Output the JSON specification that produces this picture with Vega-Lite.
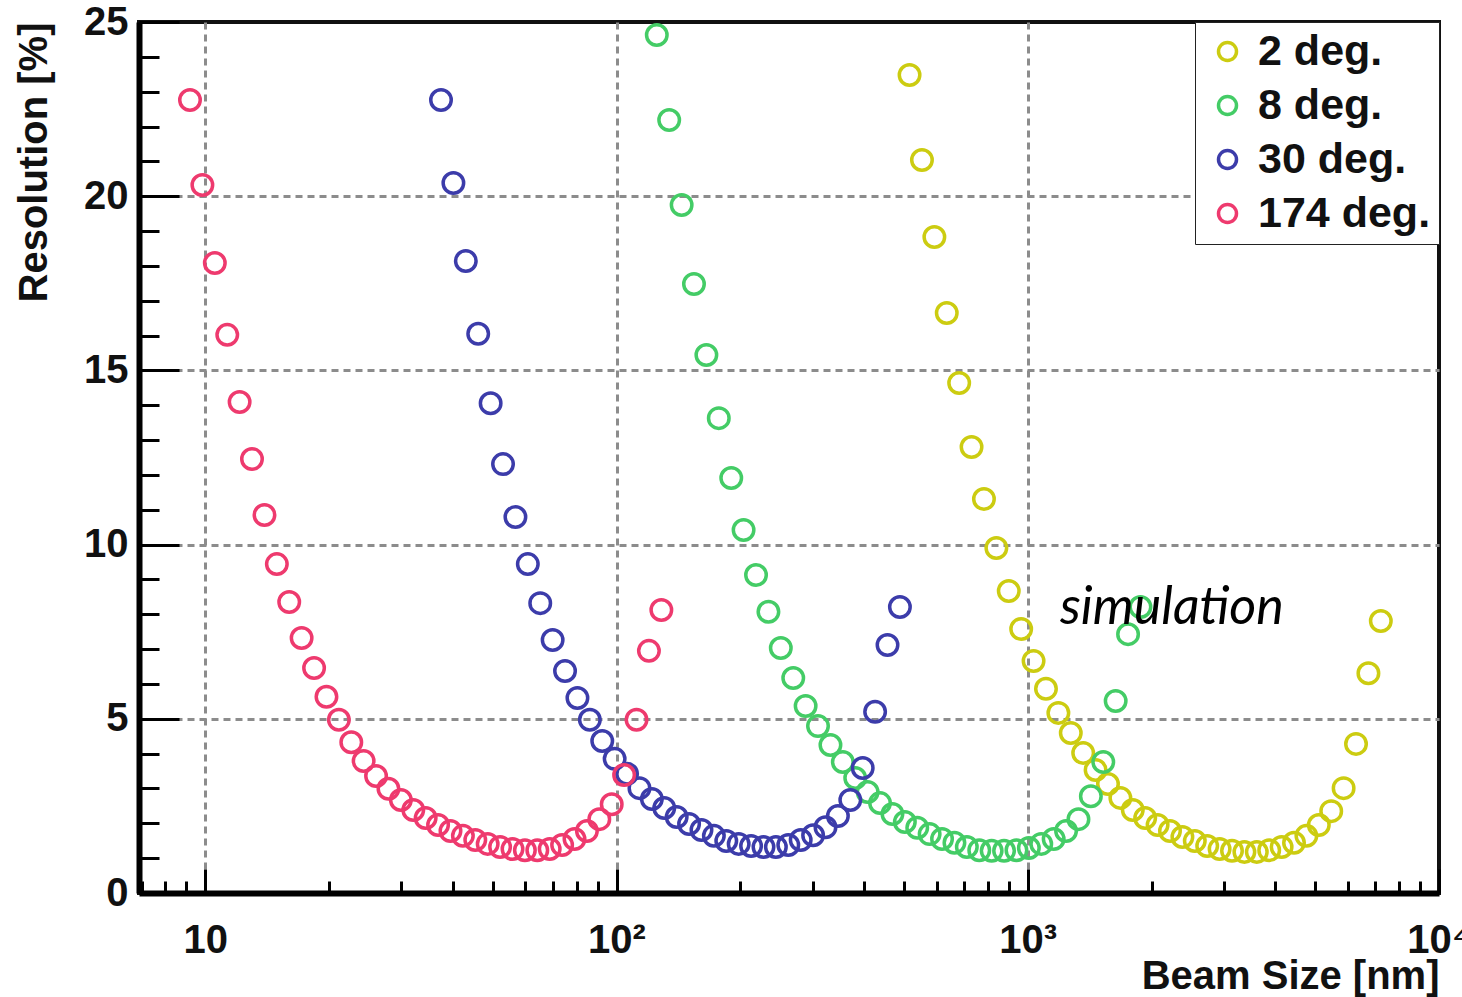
{
  "$schema": "https://vega.github.io/schema/vega-lite/v6.json",
  "width": 1300,
  "height": 871,
  "autosize": {"type": "none"},
  "padding": {"left": 139, "top": 22, "right": 23, "bottom": 104},
  "background": "white",
  "config": {
    "view": {"stroke": "#111111", "strokeWidth": 4},
    "font": "Liberation Sans"
  },
  "title": {
    "text": "with ~ 10% resolution",
    "anchor": "start",
    "frame": "group",
    "dx": 561,
    "dy": 10,
    "offset": -6,
    "baseline": "alphabetic",
    "font": "Liberation Sans",
    "fontSize": 40,
    "fontWeight": "bold",
    "color": "#111111"
  },
  "resolve": {"axis": {"x": "independent", "y": "independent"}},
  "layer": [
    {
      "data": {
        "values": [
          {"angle": "2 deg.", "beam": 515.9, "res": 23.48},
          {"angle": "2 deg.", "beam": 553.0, "res": 21.04},
          {"angle": "2 deg.", "beam": 592.8, "res": 18.83},
          {"angle": "2 deg.", "beam": 635.4, "res": 16.65},
          {"angle": "2 deg.", "beam": 681.1, "res": 14.64},
          {"angle": "2 deg.", "beam": 730.0, "res": 12.80},
          {"angle": "2 deg.", "beam": 782.5, "res": 11.31},
          {"angle": "2 deg.", "beam": 838.8, "res": 9.90},
          {"angle": "2 deg.", "beam": 899.1, "res": 8.67},
          {"angle": "2 deg.", "beam": 963.8, "res": 7.58},
          {"angle": "2 deg.", "beam": 1033.1, "res": 6.66},
          {"angle": "2 deg.", "beam": 1107.4, "res": 5.86},
          {"angle": "2 deg.", "beam": 1187.0, "res": 5.17},
          {"angle": "2 deg.", "beam": 1272.4, "res": 4.59},
          {"angle": "2 deg.", "beam": 1363.9, "res": 4.02},
          {"angle": "2 deg.", "beam": 1461.9, "res": 3.53},
          {"angle": "2 deg.", "beam": 1567.0, "res": 3.13},
          {"angle": "2 deg.", "beam": 1679.7, "res": 2.73},
          {"angle": "2 deg.", "beam": 1800.5, "res": 2.38},
          {"angle": "2 deg.", "beam": 1930.0, "res": 2.15},
          {"angle": "2 deg.", "beam": 2068.8, "res": 1.95},
          {"angle": "2 deg.", "beam": 2217.5, "res": 1.78},
          {"angle": "2 deg.", "beam": 2377.0, "res": 1.61},
          {"angle": "2 deg.", "beam": 2547.9, "res": 1.49},
          {"angle": "2 deg.", "beam": 2731.1, "res": 1.35},
          {"angle": "2 deg.", "beam": 2927.5, "res": 1.26},
          {"angle": "2 deg.", "beam": 3138.0, "res": 1.21},
          {"angle": "2 deg.", "beam": 3363.6, "res": 1.18},
          {"angle": "2 deg.", "beam": 3605.5, "res": 1.18},
          {"angle": "2 deg.", "beam": 3864.7, "res": 1.23},
          {"angle": "2 deg.", "beam": 4142.6, "res": 1.32},
          {"angle": "2 deg.", "beam": 4440.5, "res": 1.44},
          {"angle": "2 deg.", "beam": 4759.8, "res": 1.64},
          {"angle": "2 deg.", "beam": 5102.0, "res": 1.95},
          {"angle": "2 deg.", "beam": 5468.9, "res": 2.35},
          {"angle": "2 deg.", "beam": 5862.1, "res": 3.01},
          {"angle": "2 deg.", "beam": 6283.6, "res": 4.28},
          {"angle": "2 deg.", "beam": 6735.4, "res": 6.31},
          {"angle": "2 deg.", "beam": 7219.7, "res": 7.81},
          {"angle": "8 deg.", "beam": 125.3, "res": 24.63},
          {"angle": "8 deg.", "beam": 134.3, "res": 22.19},
          {"angle": "8 deg.", "beam": 144.0, "res": 19.75},
          {"angle": "8 deg.", "beam": 154.3, "res": 17.48},
          {"angle": "8 deg.", "beam": 165.4, "res": 15.44},
          {"angle": "8 deg.", "beam": 177.3, "res": 13.63},
          {"angle": "8 deg.", "beam": 190.1, "res": 11.91},
          {"angle": "8 deg.", "beam": 203.7, "res": 10.42},
          {"angle": "8 deg.", "beam": 218.4, "res": 9.13},
          {"angle": "8 deg.", "beam": 234.1, "res": 8.07},
          {"angle": "8 deg.", "beam": 250.9, "res": 7.03},
          {"angle": "8 deg.", "beam": 269.0, "res": 6.17},
          {"angle": "8 deg.", "beam": 288.3, "res": 5.37},
          {"angle": "8 deg.", "beam": 309.0, "res": 4.79},
          {"angle": "8 deg.", "beam": 331.3, "res": 4.25},
          {"angle": "8 deg.", "beam": 355.1, "res": 3.76},
          {"angle": "8 deg.", "beam": 380.6, "res": 3.30},
          {"angle": "8 deg.", "beam": 408.0, "res": 2.90},
          {"angle": "8 deg.", "beam": 437.3, "res": 2.58},
          {"angle": "8 deg.", "beam": 468.8, "res": 2.27},
          {"angle": "8 deg.", "beam": 502.5, "res": 2.04},
          {"angle": "8 deg.", "beam": 538.6, "res": 1.87},
          {"angle": "8 deg.", "beam": 577.3, "res": 1.69},
          {"angle": "8 deg.", "beam": 618.8, "res": 1.55},
          {"angle": "8 deg.", "beam": 663.3, "res": 1.44},
          {"angle": "8 deg.", "beam": 711.0, "res": 1.32},
          {"angle": "8 deg.", "beam": 762.2, "res": 1.23},
          {"angle": "8 deg.", "beam": 817.0, "res": 1.21},
          {"angle": "8 deg.", "beam": 875.7, "res": 1.21},
          {"angle": "8 deg.", "beam": 938.7, "res": 1.23},
          {"angle": "8 deg.", "beam": 1006.2, "res": 1.29},
          {"angle": "8 deg.", "beam": 1078.5, "res": 1.41},
          {"angle": "8 deg.", "beam": 1156.1, "res": 1.55},
          {"angle": "8 deg.", "beam": 1239.2, "res": 1.78},
          {"angle": "8 deg.", "beam": 1328.3, "res": 2.12},
          {"angle": "8 deg.", "beam": 1423.8, "res": 2.78},
          {"angle": "8 deg.", "beam": 1526.2, "res": 3.76},
          {"angle": "8 deg.", "beam": 1635.9, "res": 5.51},
          {"angle": "8 deg.", "beam": 1753.5, "res": 7.43},
          {"angle": "8 deg.", "beam": 1879.6, "res": 8.21},
          {"angle": "30 deg.", "beam": 37.43, "res": 22.76},
          {"angle": "30 deg.", "beam": 40.12, "res": 20.38},
          {"angle": "30 deg.", "beam": 43.01, "res": 18.14},
          {"angle": "30 deg.", "beam": 46.10, "res": 16.05},
          {"angle": "30 deg.", "beam": 49.42, "res": 14.06},
          {"angle": "30 deg.", "beam": 52.97, "res": 12.31},
          {"angle": "30 deg.", "beam": 56.78, "res": 10.79},
          {"angle": "30 deg.", "beam": 60.86, "res": 9.44},
          {"angle": "30 deg.", "beam": 65.24, "res": 8.32},
          {"angle": "30 deg.", "beam": 69.93, "res": 7.26},
          {"angle": "30 deg.", "beam": 74.96, "res": 6.37},
          {"angle": "30 deg.", "beam": 80.35, "res": 5.60},
          {"angle": "30 deg.", "beam": 86.13, "res": 4.97},
          {"angle": "30 deg.", "beam": 92.32, "res": 4.36},
          {"angle": "30 deg.", "beam": 98.96, "res": 3.85},
          {"angle": "30 deg.", "beam": 106.08, "res": 3.42},
          {"angle": "30 deg.", "beam": 113.71, "res": 3.01},
          {"angle": "30 deg.", "beam": 121.89, "res": 2.70},
          {"angle": "30 deg.", "beam": 130.65, "res": 2.44},
          {"angle": "30 deg.", "beam": 140.05, "res": 2.18},
          {"angle": "30 deg.", "beam": 150.12, "res": 1.98},
          {"angle": "30 deg.", "beam": 160.91, "res": 1.81},
          {"angle": "30 deg.", "beam": 172.48, "res": 1.64},
          {"angle": "30 deg.", "beam": 184.89, "res": 1.49},
          {"angle": "30 deg.", "beam": 198.18, "res": 1.41},
          {"angle": "30 deg.", "beam": 212.43, "res": 1.35},
          {"angle": "30 deg.", "beam": 227.71, "res": 1.32},
          {"angle": "30 deg.", "beam": 244.09, "res": 1.32},
          {"angle": "30 deg.", "beam": 261.64, "res": 1.38},
          {"angle": "30 deg.", "beam": 280.46, "res": 1.52},
          {"angle": "30 deg.", "beam": 300.63, "res": 1.66},
          {"angle": "30 deg.", "beam": 322.24, "res": 1.89},
          {"angle": "30 deg.", "beam": 345.42, "res": 2.21},
          {"angle": "30 deg.", "beam": 370.26, "res": 2.67},
          {"angle": "30 deg.", "beam": 396.88, "res": 3.59},
          {"angle": "30 deg.", "beam": 425.42, "res": 5.20},
          {"angle": "30 deg.", "beam": 456.02, "res": 7.12},
          {"angle": "30 deg.", "beam": 488.81, "res": 8.21},
          {"angle": "174 deg.", "beam": 9.18, "res": 22.76},
          {"angle": "174 deg.", "beam": 9.84, "res": 20.32},
          {"angle": "174 deg.", "beam": 10.55, "res": 18.08},
          {"angle": "174 deg.", "beam": 11.31, "res": 16.02},
          {"angle": "174 deg.", "beam": 12.12, "res": 14.09},
          {"angle": "174 deg.", "beam": 12.99, "res": 12.46},
          {"angle": "174 deg.", "beam": 13.93, "res": 10.85},
          {"angle": "174 deg.", "beam": 14.93, "res": 9.44},
          {"angle": "174 deg.", "beam": 16.00, "res": 8.35},
          {"angle": "174 deg.", "beam": 17.15, "res": 7.32},
          {"angle": "174 deg.", "beam": 18.39, "res": 6.46},
          {"angle": "174 deg.", "beam": 19.71, "res": 5.63},
          {"angle": "174 deg.", "beam": 21.13, "res": 4.97},
          {"angle": "174 deg.", "beam": 22.65, "res": 4.33},
          {"angle": "174 deg.", "beam": 24.27, "res": 3.79},
          {"angle": "174 deg.", "beam": 26.02, "res": 3.36},
          {"angle": "174 deg.", "beam": 27.89, "res": 2.99},
          {"angle": "174 deg.", "beam": 29.90, "res": 2.67},
          {"angle": "174 deg.", "beam": 32.05, "res": 2.38},
          {"angle": "174 deg.", "beam": 34.35, "res": 2.15},
          {"angle": "174 deg.", "beam": 36.82, "res": 1.95},
          {"angle": "174 deg.", "beam": 39.47, "res": 1.78},
          {"angle": "174 deg.", "beam": 42.31, "res": 1.64},
          {"angle": "174 deg.", "beam": 45.35, "res": 1.52},
          {"angle": "174 deg.", "beam": 48.61, "res": 1.41},
          {"angle": "174 deg.", "beam": 52.11, "res": 1.32},
          {"angle": "174 deg.", "beam": 55.86, "res": 1.26},
          {"angle": "174 deg.", "beam": 59.87, "res": 1.23},
          {"angle": "174 deg.", "beam": 64.18, "res": 1.23},
          {"angle": "174 deg.", "beam": 68.79, "res": 1.26},
          {"angle": "174 deg.", "beam": 73.74, "res": 1.38},
          {"angle": "174 deg.", "beam": 79.04, "res": 1.55},
          {"angle": "174 deg.", "beam": 84.73, "res": 1.78},
          {"angle": "174 deg.", "beam": 90.82, "res": 2.12},
          {"angle": "174 deg.", "beam": 97.35, "res": 2.55},
          {"angle": "174 deg.", "beam": 104.35, "res": 3.39},
          {"angle": "174 deg.", "beam": 111.86, "res": 4.97},
          {"angle": "174 deg.", "beam": 119.90, "res": 6.95},
          {"angle": "174 deg.", "beam": 128.53, "res": 8.12}
        ]
      },
      "mark": {"type": "point", "shape": "circle", "filled": false, "size": 420, "strokeWidth": 3.5, "opacity": 1},
      "encoding": {
        "x": {
          "field": "beam",
          "type": "quantitative",
          "scale": {"type": "log", "domain": [6.9, 10000], "nice": false},
          "axis": {
            "values": [7, 8, 9, 10, 20, 30, 40, 50, 60, 70, 80, 90, 100, 200, 300, 400, 500, 600, 700, 800, 900, 1000, 2000, 3000, 4000, 5000, 6000, 7000, 8000, 9000, 10000],
            "title": "Beam Size [nm]",
            "titleAnchor": "end",
            "titleFont": "Liberation Sans",
            "titleFontSize": 40,
            "titleFontWeight": "bold",
            "titleColor": "#111111",
            "titlePadding": -16,
            "labelExpr": "datum.value == 10 ? '10' : datum.value == 100 ? '10²' : datum.value == 1000 ? '10³' : datum.value == 10000 ? '10⁴' : ''",
            "labelFont": "Liberation Sans",
            "labelFontSize": 40,
            "labelFontWeight": "bold",
            "labelColor": "#111111",
            "labelPadding": 51,
            "labelFlush": false,
            "labelOverlap": false,
            "labelBound": false,
            "domainColor": "#000000",
            "domainWidth": 6,
            "tickColor": "#000000",
            "tickWidth": 3,
            "tickSize": {"condition": {"test": "indexof([10,100,1000,10000], datum.value) >= 0", "value": -24}, "value": -12},
            "grid": true,
            "gridColor": "#8c8c8c",
            "gridWidth": 3,
            "gridDash": [7, 5],
            "gridOpacity": {"condition": {"test": "indexof([10,100,1000], datum.value) >= 0", "value": 1}, "value": 0}
          }
        },
        "y": {
          "field": "res",
          "type": "quantitative",
          "scale": {"domain": [0, 25], "nice": false},
          "axis": {
            "values": [0, 1, 2, 3, 4, 5, 6, 7, 8, 9, 10, 11, 12, 13, 14, 15, 16, 17, 18, 19, 20, 21, 22, 23, 24, 25],
            "title": "Resolution [%]",
            "titleAnchor": "end",
            "titleFont": "Liberation Sans",
            "titleFontSize": 40,
            "titleFontWeight": "bold",
            "titleColor": "#111111",
            "titlePadding": 29,
            "labelExpr": "indexof([0,5,10,15,20,25], datum.value) >= 0 ? datum.label : ''",
            "labelFont": "Liberation Sans",
            "labelFontSize": 40,
            "labelFontWeight": "bold",
            "labelColor": "#111111",
            "labelPadding": 51,
            "labelFlush": false,
            "labelOverlap": false,
            "labelBound": false,
            "domainColor": "#000000",
            "domainWidth": 6,
            "tickColor": "#000000",
            "tickWidth": 3,
            "tickSize": {"condition": {"test": "indexof([0,5,10,15,20,25], datum.value) >= 0", "value": -40}, "value": -20},
            "grid": true,
            "gridColor": "#8c8c8c",
            "gridWidth": 3,
            "gridDash": [7, 5],
            "gridOpacity": {"condition": {"test": "indexof([5,10,15,20], datum.value) >= 0", "value": 1}, "value": 0}
          }
        },
        "color": {
          "field": "angle",
          "type": "nominal",
          "scale": {
            "domain": ["2 deg.", "8 deg.", "30 deg.", "174 deg."],
            "range": ["#cccc11", "#44cc66", "#3c3caa", "#ee3a6e"]
          },
          "legend": {
            "title": null,
            "orient": "top-right",
            "offset": 0,
            "padding": 8,
            "fillColor": "white",
            "strokeColor": "#222222",
            "symbolType": "circle",
            "symbolSize": 324,
            "symbolStrokeWidth": 3.5,
            "symbolOffset": 3,
            "labelFont": "Liberation Sans",
            "labelFontSize": 43,
            "labelFontWeight": "bold",
            "labelColor": "#111111",
            "labelOffset": 9,
            "rowPadding": 10,
            "labelLimit": 400,
            "encode": {"legend": {"update": {"strokeWidth": {"value": 3}}}}
          }
        }
      }
    },
    {
      "data": {"values": [{}]},
      "mark": {"type": "text", "font": "Lato", "fontStyle": "italic", "fontSize": 52, "align": "left", "baseline": "alphabetic", "color": "#000000"},
      "encoding": {
        "x": {"datum": 1198, "type": "quantitative", "axis": null},
        "y": {"datum": 7.72, "type": "quantitative", "axis": null},
        "text": {"value": "simulation"}
      }
    }
  ]
}
